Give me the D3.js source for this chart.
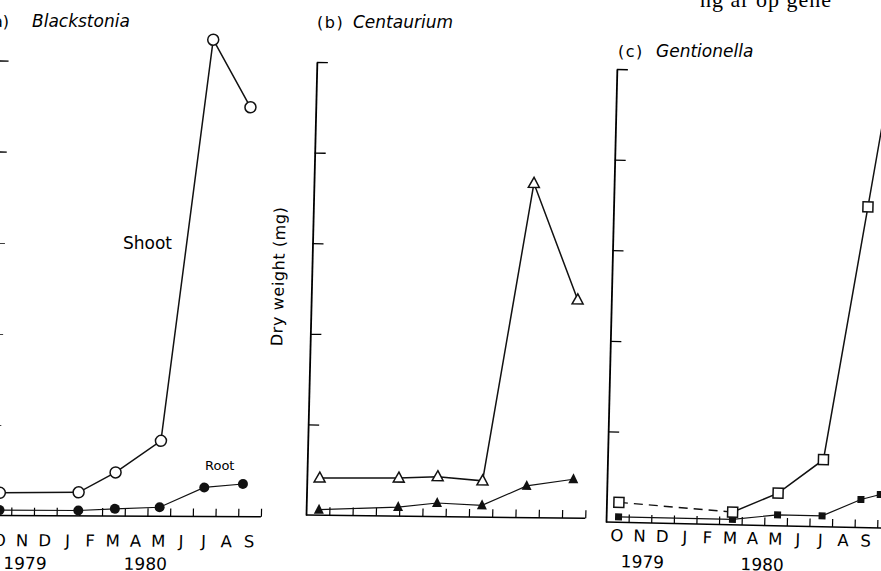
<!DOCTYPE html>
<html>
<head>
<meta charset="UTF-8">
<script src="https://d3js.org/d3.v7.min.js"></script>
<style>
  body { margin: 0; background: #fff; }
  svg { display: block; font-family: "DejaVu Sans", sans-serif; }
</style>
</head>
<body>
<div id="chart"></div>
<script>
// time is in months since 1 Oct 1979, values in y-axis units (one unit per tick)
const months = ['O','N','D','J','F','M','A','M','J','J','A','S'];
const years = [{label:'1979', t:1.65}, {label:'1980', t:6.95}];
const yTicks = [1, 2, 3, 4, 5];

const blackTime  = [0.48, 3.95, 5.56, 7.53, 9.48, 11.18];
const blackShoot = [0.25, 0.26, 0.48, 0.83, 5.24, 4.5];
const blackRoot  = [0.06, 0.06, 0.08, 0.10, 0.32, 0.36];

const centTime  = [0.55, 3.95, 5.62, 7.55, 9.45, 11.45];
const centShoot = [0.41, 0.42, 0.44, 0.40, 3.69, 2.41];
const centRoot  = [0.06, 0.10, 0.15, 0.13, 0.35, 0.43];

const gentTime  = [0.55, 5.59, 7.58, 9.55, 11.25, 12.1];
const gentShoot = [0.22, 0.14, 0.36, 0.74, 3.54, 4.95];
const gentRoot  = [0.06, 0.06, 0.12, 0.12, 0.31, 0.37];

const W = 881, H = 571;
const svg = d3.select('#chart').append('svg')
    .attr('width', W).attr('height', H);

// the scan is a bit skewed, each panel gets its own small shear
const panels = [
  {ox:-11.5, oy:515.5, sx:0.005, sy:0.02, mw:22.7, unit:91, end:12,
   time:blackTime, shoot:blackShoot, root:blackRoot, mark:'circle',
   monthDy:30.5, yearDy:53.5},
  {ox:306, oy:515, sx:0.012, sy:0.024, mw:23.27, unit:90.6, end:12,
   time:centTime, shoot:centShoot, root:centRoot, mark:'triangle'},
  {ox:606, oy:522, sx:0.022, sy:0.024, mw:22.6, unit:90.6, end:12.4,
   time:gentTime, shoot:gentShoot, root:gentRoot, mark:'square',
   monthDy:19, yearDy:45, dashFirst:true}
];

const shapes = {
  circle:   {open:'M5.5,0A5.5,5.5,0,1,1,-5.5,0A5.5,5.5,0,1,1,5.5,0Z',
             fill:'M5,0A5,5,0,1,1,-5,0A5,5,0,1,1,5,0Z'},
  triangle: {open:'M0,-6L5.5,4L-5.5,4Z', fill:'M0,-6L5,4L-5,4Z'},
  square:   {open:'M-5,-5H5V5H-5Z', fill:'M-3.5,-3.5H3.5V3.5H-3.5Z'}
};

panels.forEach(p => {
  const x = d3.scaleLinear().domain([0, 12]).range([0, 12 * p.mw]);
  const y = d3.scaleLinear().domain([0, 5]).range([0, -5 * p.unit]);
  const g = svg.append('g')
      .attr('transform', `matrix(1,${p.sx},${-p.sy},1,${p.ox},${p.oy})`);

  // y axis, ticks pointing inwards
  const ya = g.append('g').call(d3.axisRight(y).tickValues(yTicks)
      .tickSize(11).tickSizeOuter(0).tickFormat(''));
  ya.select('.domain').attr('stroke-width', 1.8);
  ya.selectAll('.tick line').attr('stroke-width', 1.3);

  // x axis: month boundaries, ticks pointing up
  const xa = g.append('g').call(d3.axisTop(x)
      .tickValues(d3.range(1, 13)).tickSize(8).tickSizeOuter(0).tickFormat(''));
  xa.select('.domain').attr('d', `M0,0H${x(p.end)}`).attr('stroke-width', 1.5);
  xa.selectAll('.tick line').attr('stroke-width', 1.2);

  if (p.monthDy) {
    g.selectAll('.month').data(months).join('text')
      .attr('class', 'month')
      .attr('x', (d, i) => x(i + 0.5)).attr('y', p.monthDy)
      .attr('text-anchor', 'middle').attr('font-size', 16.5)
      .text(d => d);
    g.selectAll('.year').data(years).join('text')
      .attr('class', 'year')
      .attr('x', d => x(d.t)).attr('y', p.yearDy)
      .attr('text-anchor', 'middle').attr('font-size', 17)
      .text(d => d.label);
  }

  const line = d3.line().x(d => x(d[0])).y(d => y(d[1]));
  const shoot = p.time.map((t, i) => [t, p.shoot[i]]);
  const root = p.time.map((t, i) => [t, p.root[i]]);

  g.append('path').datum(root).attr('d', line)
    .attr('fill', 'none').attr('stroke', '#111').attr('stroke-width', 1.2);
  if (p.dashFirst) {
    g.append('path').datum(shoot.slice(0, 2)).attr('d', line)
      .attr('fill', 'none').attr('stroke', '#111').attr('stroke-width', 1.4)
      .attr('stroke-dasharray', '9,6');
    g.append('path').datum(shoot.slice(1)).attr('d', line)
      .attr('fill', 'none').attr('stroke', '#111').attr('stroke-width', 1.5);
  } else {
    g.append('path').datum(shoot).attr('d', line)
      .attr('fill', 'none').attr('stroke', '#111').attr('stroke-width', 1.5);
  }

  g.selectAll('.rootpt').data(root).join('path')
    .attr('class', 'rootpt')
    .attr('transform', d => `translate(${x(d[0])},${y(d[1])})`)
    .attr('d', shapes[p.mark].fill).attr('fill', '#111');
  g.selectAll('.shootpt').data(shoot).join('path')
    .attr('class', 'shootpt')
    .attr('transform', d => `translate(${x(d[0])},${y(d[1])})`)
    .attr('d', shapes[p.mark].open)
    .attr('fill', '#fff').attr('stroke', '#111').attr('stroke-width', 1.5);
});

// titles
svg.append('text').attr('x', 9).attr('y', 27).attr('text-anchor', 'end')
  .attr('font-size', 16).text('(a)');
svg.append('text').attr('x', 32).attr('y', 27).attr('font-size', 17)
  .attr('font-style', 'italic').text('Blackstonia');
svg.append('text').attr('x', 317).attr('y', 28).attr('font-size', 16)
  .attr('letter-spacing', 1.5).text('(b)');
svg.append('text').attr('x', 353).attr('y', 28).attr('font-size', 17)
  .attr('font-style', 'italic').text('Centaurium');
svg.append('text').attr('x', 618).attr('y', 57).attr('font-size', 16)
  .attr('letter-spacing', 1.5).text('(c)');
svg.append('text').attr('x', 656).attr('y', 57).attr('font-size', 17)
  .attr('font-style', 'italic').text('Gentionella');

// labels inside panel a and the shared y label
svg.append('text').attr('x', 123).attr('y', 249).attr('font-size', 17).text('Shoot');
svg.append('text').attr('x', 205).attr('y', 470).attr('font-size', 13).text('Root');
svg.append('text')
  .attr('transform', 'translate(284,276.5) rotate(-88.6)')
  .attr('text-anchor', 'middle').attr('font-size', 16).attr('letter-spacing', 0.6)
  .text('Dry weight (mg)');

// cut-off caption line from the page above
svg.append('text').attr('x', 700).attr('y', 7)
  .attr('font-family', '"Liberation Serif", serif').attr('font-size', 22)
  .attr('letter-spacing', 1).text('ng  ar  op  gene');
</script>
</body>
</html>
